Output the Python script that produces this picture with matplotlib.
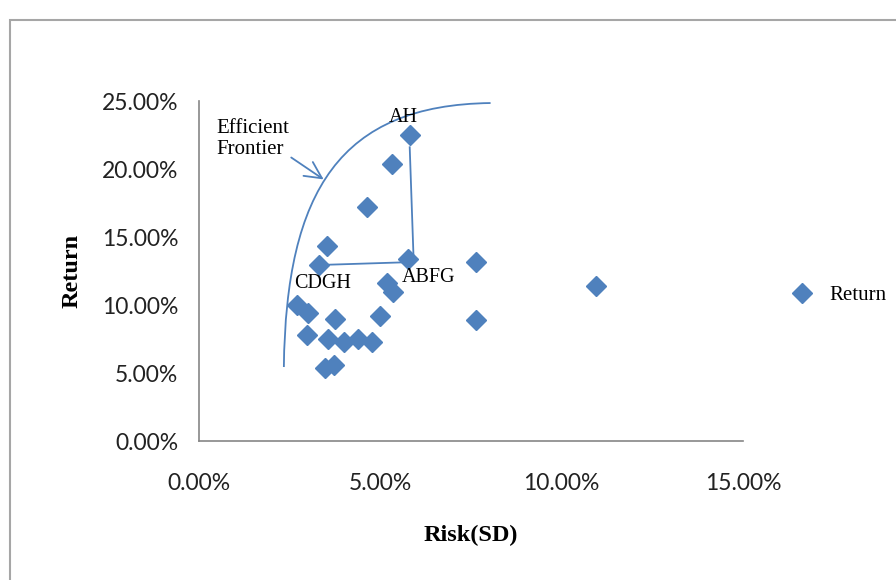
import matplotlib
matplotlib.use("Agg")
import matplotlib.pyplot as plt
from matplotlib.patches import Rectangle, PathPatch
from matplotlib.path import Path
from matplotlib.ticker import PercentFormatter

# portfolio risk / return, in percent
risk = [5.81, 5.31, 4.63, 3.52, 3.30, 5.75, 7.65, 5.18, 5.34, 10.96,
        2.70, 3.00, 3.74, 4.98, 7.63, 2.97, 3.55, 3.99, 4.38, 4.76,
        3.47, 3.72]
ret = [22.5, 20.37, 17.2, 14.34, 12.94, 13.38, 13.16, 11.62, 10.96, 11.4,
       10.0, 9.41, 8.97, 9.19, 8.9, 7.79, 7.5, 7.28, 7.5, 7.28,
       5.37, 5.59]

# hand drawn frontier curve (bezier: start, two controls, end)
frontier_risk = [2.34, 2.40, 3.91, 8.04]
frontier_ret = [5.44, 18.46, 24.71, 24.85]

# AH -> ABFG -> CDGH connector
link_risk = [5.81, 5.92, 3.30]
link_ret = [21.6, 13.16, 12.94]

blue = "#4F81BD"
serif = ["Liberation Serif", "DejaVu Serif"]

fig = plt.figure(figsize=(8.96, 5.8), dpi=100)
fig.patches.append(Rectangle((10 / 896, -0.1), 1.2, 1.1 - 20 / 580,
                             transform=fig.transFigure, fill=False,
                             edgecolor="#a6a6a6", linewidth=1.5))
ax = fig.add_axes([199 / 896, 139 / 580, 544 / 896, 340 / 580])

ax.plot(risk, ret, linestyle="none", marker="D", markersize=10,
        color=blue, label="Return")

curve = Path(list(zip(frontier_risk, frontier_ret)),
             [Path.MOVETO, Path.CURVE4, Path.CURVE4, Path.CURVE4])
ax.add_patch(PathPatch(curve, fill=False, edgecolor=blue, linewidth=1.3))
ax.plot(link_risk, link_ret, color=blue, linewidth=1.3)

ax.annotate("", xy=(3.50, 19.12), xytext=(2.48, 20.96),
            arrowprops=dict(arrowstyle="->", color=blue, linewidth=1.3,
                            mutation_scale=30))
ax.text(0.47, 23.7, "Efficient\nFrontier", family=serif, fontsize=15,
        va="top", ha="left", linespacing=1.2)
ax.text(5.64, 23.8, "AH", family=serif, fontsize=14.5, ha="center", va="center")
ax.text(3.41, 11.6, "CDGH", family=serif, fontsize=14.5, ha="center", va="center")
ax.text(6.33, 12.0, "ABFG", family=serif, fontsize=14.5, ha="center", va="center")

ax.set_xlim(0, 15)
ax.set_ylim(0, 25)
ax.set_xticks([0, 5, 10, 15])
ax.set_yticks([0, 5, 10, 15, 20, 25])
ax.xaxis.set_major_formatter(PercentFormatter(decimals=2))
ax.yaxis.set_major_formatter(PercentFormatter(decimals=2))
ax.tick_params(length=0, labelsize=16.5, colors="#222222")
ax.tick_params(axis="x", pad=23)
ax.tick_params(axis="y", pad=15)
for lab in ax.get_xticklabels() + ax.get_yticklabels():
    lab.set_family(["Lato", "DejaVu Sans"])

for side in ["top", "right"]:
    ax.spines[side].set_visible(False)
for side in ["left", "bottom"]:
    ax.spines[side].set_color("#868686")
    ax.spines[side].set_linewidth(1.2)

ax.set_xlabel("Risk(SD)", family=serif, fontsize=17.5, fontweight="bold", labelpad=22)
ax.set_ylabel("Return", family=serif, fontsize=17.5, fontweight="bold", labelpad=14)

ax.legend(loc="center left", bbox_to_anchor=(773 / 896, 1 - 295 / 580),
          bbox_transform=fig.transFigure, frameon=False,
          prop={"family": serif, "size": 15}, handletextpad=0.3,
          borderaxespad=0)

fig.savefig("out.png", dpi=100)
